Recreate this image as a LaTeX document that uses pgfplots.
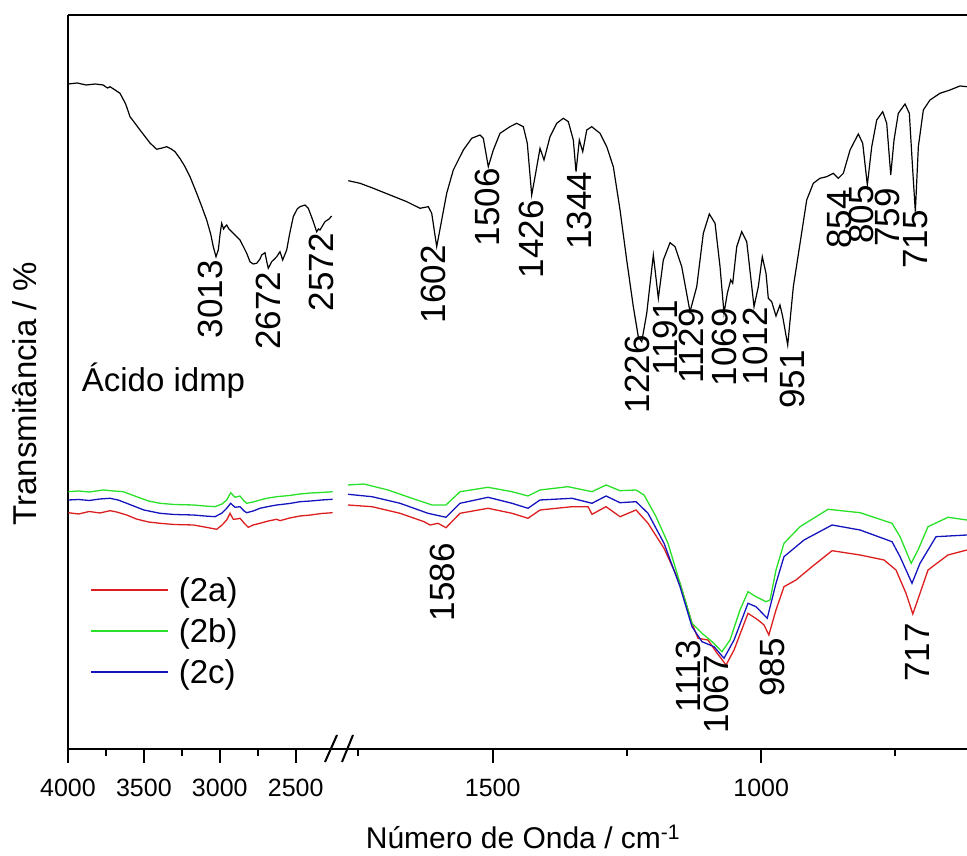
\documentclass[border=0pt]{standalone}
\usepackage{pgfplots}
\pgfplotsset{compat=1.18}
\usepackage{fontspec}
\setmainfont{Liberation Sans}
\definecolor{redA}{RGB}{220,30,30}
\definecolor{greenB}{RGB}{40,225,40}
\definecolor{blueC}{RGB}{20,20,190}
\newcommand{\pk}{\fontsize{35}{35}\selectfont}
\pgfplotsset{
  ftir/.style={
    scale only axis, anchor=south west, height=734pt,
    x dir=reverse, ymin=0, ymax=734,
    tick align=outside, xtick pos=lower,
    major tick length=14pt, minor tick length=7pt,
    every tick/.style={black, line width=2pt},
    ytick=\empty,
    /pgf/number format/assume math mode=true,
    xticklabel style={font=\fontsize{25}{25}\selectfont, inner sep=0pt, anchor=north, yshift=-16pt},
    clip=true,
  }
}
\begin{document}
\begin{tikzpicture}[x=1pt,y=1pt]
\useasboundingbox (0,0) rectangle (967,856);
% ---------------- left segment ----------------
\begin{axis}[ftir, at={(68pt,107pt)}, width=272pt,
  xmin=2208, xmax=4000,
  axis x line=box, axis y line=left,
  axis line style={-, line width=2.2pt},
  x axis line style={-}, y axis line style={-},
  xtick={4000,3500,3000,2500}, xticklabels={4000,3500,3000,2500},
  minor xtick={3750,3250,2750},
  legend style={draw=none, fill=none, at={(rel axis cs:0.081,0.234)}, anchor=north west,
    font=\fontsize{33}{33}\selectfont, row sep=15.5pt, inner sep=0pt,
    nodes={inner sep=0pt}, column sep=10pt},
  legend cell align=left,
  legend image code/.code={\draw[#1, line width=1.6pt] (0pt,0pt) -- (77pt,0pt);},
]
\addplot[black, line width=1.2pt, forget plot] coordinates {
(3998,665) (3940,666) (3880,664) (3820,665) (3769,664) (3740,661) (3723,662.3) (3690,659) (3657.4,655.7)
(3620,645) (3591.5,632.3) (3560,626) (3525.7,619) (3490,612) (3459.8,606) (3415.7,599.7) (3380,601)
(3349.8,602.3) (3320,600) (3295.1,597.3) (3260,590) (3229.2,582.3) (3196.3,572.3) (3152.1,555.7)
(3120,543) (3086.3,529) (3060,515) (3042.8,502.3) (3025,492.3) (3009.8,499) (2998,515) (2987.4,525.7)
(2975,520) (2965.7,522.3) (2954.5,524) (2940,520) (2921.6,517.3) (2900,514) (2866.9,509) (2840,501)
(2822.7,495.7) (2801,487.3) (2780,485) (2756.8,485.7) (2735,490) (2723.9,494) (2702.2,496.3)
(2690,487) (2680.4,480.7) (2658,487.3) (2640,490) (2625.1,492.3) (2603.3,497.3) (2585.6,489)
(2559.2,499) (2540,515) (2515.7,532.3) (2490,540) (2471.6,542.3) (2438.6,544) (2416.9,540.7)
(2400,534) (2383.9,527.3) (2361.6,517.3) (2350,520) (2339.8,519) (2306.9,527.3) (2280,530) (2262.7,533)
};
\addplot[redA, line width=1.3pt] coordinates {
(3998,236.3) (3930,235) (3860,237.5) (3790,236) (3723.3,238.3) (3680,237) (3613.3,234) (3550,230)
(3470,227) (3393.9,225.7) (3300,224.5) (3174.5,224) (3100,222) (3020.4,219.7) (2985,224) (2954.5,229)
(2932.7,235.7) (2911,229.7) (2890,230) (2866.9,230.7) (2840,226) (2812.2,221.7) (2780,224) (2735.1,225.7)
(2680,228) (2625.1,229.7) (2603.3,228.3) (2540,231) (2471.6,233) (2400,234) (2330,235.5) (2256.2,236.3)
};
\addlegendentry{(2a)}
\addplot[greenB, line width=1.3pt] coordinates {
(3998,257.3) (3930,258) (3860,257) (3767.4,259) (3700,258) (3635.7,257.3) (3547.4,252.3) (3470,248)
(3393.9,245.7) (3300,244.5) (3174.5,244) (3100,243) (3031.6,242.3) (2985,245) (2954.5,249) (2928.1,256.3)
(2899.8,251.7) (2866.9,253) (2840,248) (2822.7,245.7) (2780,247) (2735.1,249) (2680,251) (2625.1,252.3)
(2540,253.5) (2471.6,255) (2400,256) (2330,256.5) (2256.2,257.3)
};
\addlegendentry{(2b)}
\addplot[blueC, line width=1.3pt] coordinates {
(3998,249) (3930,249.5) (3860,248.5) (3790,250) (3723.3,250.7) (3670,249) (3613.3,245.7) (3500,239)
(3393.9,235.7) (3300,234.5) (3174.5,234) (3100,233) (3031.6,232.3) (2985,236) (2954.5,240.7)
(2928.1,245.7) (2899.8,241.7) (2866.9,242.3) (2840,238) (2822.7,236.3) (2780,238) (2735.1,240.7)
(2680,242.5) (2625.1,244) (2540,245.5) (2471.6,247.3) (2400,248) (2330,249) (2256.2,249.7)
};
\addlegendentry{(2c)}
\node[rotate=90, anchor=east, inner sep=0pt, font=\pk] at (axis cs:3064.5,489) {3013};
\node[rotate=90, anchor=east, inner sep=0pt, font=\pk] at (axis cs:2682.4,477.3) {2672};
\node[rotate=90, anchor=east, inner sep=0pt, font=\pk] at (axis cs:2333.2,516) {2572};
\node[anchor=base west, inner sep=0pt, font=\fontsize{33}{33}\selectfont] at (axis cs:3909.7,357.3) {Ácido idmp};
\end{axis}
% ---------------- right segment ----------------
\begin{axis}[ftir, at={(340pt,107pt)}, width=627pt,
  xmin=616.8, xmax=1784.4,
  axis x line=box, axis y line=none,
  axis line style={-, line width=2.2pt},
  x axis line style={-},
  xtick={1500,1000}, xticklabels={1500,1000},
  minor xtick={1750,1250,750},
]
\addplot[black, line width=1.2pt] coordinates {
(1768.9,568.3) (1747.1,565.7) (1722.3,560.7) (1691.2,554) (1660.1,547.3) (1635.4,540.7) (1619.9,542.3)
(1613.6,535.7) (1604.3,502.3) (1595,529) (1585.7,555.7) (1573.4,579) (1554.7,599) (1539.1,610.7)
(1523.7,614) (1517.5,610.7) (1508.2,582.3) (1498.9,599) (1486.4,615.7) (1467.8,622.3) (1455.3,625.7)
(1443,622.3) (1435.6,605.7) (1427.4,554) (1421.2,572.3) (1411.9,600.7) (1404.5,589) (1393.3,612.3)
(1380.8,625.7) (1368.5,630.7) (1359.2,627.3) (1349.9,609) (1344.9,577.3) (1338.7,609) (1332.4,597.3)
(1324.9,619) (1315.6,622.3) (1300.2,615.7) (1287.7,602.3) (1275.4,582.3) (1262.9,539) (1250.5,489)
(1238.2,442.3) (1228.9,412.3) (1222.5,407.3) (1213.2,435.7) (1200.9,494) (1191.6,450.7) (1182.3,489)
(1169.8,506.3) (1160.5,502.3) (1148,482.3) (1132.6,437.3) (1120.1,462.3) (1107.8,515.7) (1096.6,535)
(1086,525.7) (1076.7,482.3) (1069.3,435.7) (1063.1,455.7) (1056.8,469) (1053.1,465.7) (1045.6,502.3)
(1036.3,517.3) (1027,507.3) (1013.4,442.3) (1005.4,462.3) (998,492.3) (991.1,475.7) (986.8,450.7)
(980.5,447.3) (972.5,433) (965.1,444) (960,432.3) (950.7,404) (940.2,462.3) (927.7,505.7) (915.3,549)
(903,565.7) (890.5,570.7) (878,572.3) (865.7,575.7) (856.4,570.7) (847.1,575.7) (834.6,599) (819.2,615)
(811,605.7) (802.4,564) (794.2,602.3) (784.9,629) (773.7,637.3) (766.3,625.7) (758.8,574) (752.7,609)
(744.7,635.7) (732.2,645) (724.2,635.7) (717.9,579) (713,537.3) (707.4,602.3) (698.1,639) (685.7,649)
(667.1,655.7) (648.5,659) (629.9,663) (616.8,662.3)
};
\addplot[redA, line width=1.3pt] coordinates {
(1769.5,244) (1724.8,242.3) (1672.6,235.7) (1627.9,227.3) (1616.8,224) (1601.9,225.7) (1587,221.3)
(1560.9,235.7) (1508.8,240.7) (1464.1,235.7) (1434.3,230.7) (1412,239) (1352.3,242.3) (1322.5,242.3)
(1315.1,234.7) (1289,242.3) (1262.9,232.3) (1233.1,239) (1210.8,225.7) (1181,200.7) (1151.2,165.7)
(1128.9,125.7) (1117.7,110.7) (1099.1,109) (1084.2,97.3) (1065.5,84) (1050.6,99) (1024.6,135.7)
(1005.9,129) (994.7,124) (985.8,114) (972.5,139) (957.6,162.3) (935.2,169) (905.4,182.3) (868.1,198.3)
(816,194) (771.3,189) (749,179) (730.4,155.7) (717.7,135) (704.3,155.7) (689.4,179) (652.2,194) (616.8,199)
};
\addplot[greenB, line width=1.3pt] coordinates {
(1769.5,264) (1739.7,265) (1695,259) (1650.3,250.7) (1613,244) (1587,244) (1560.9,257.3) (1508.8,261.7)
(1464.1,257.3) (1434.3,253) (1412,259) (1359.8,262.3) (1315.1,257.3) (1289,264) (1262.9,258.3)
(1233.1,259) (1218.2,254) (1195.9,232.3) (1173.6,205.7) (1151.2,165.7) (1128.9,125.7) (1110.3,115.7)
(1091.6,107.3) (1073,97.3) (1058.1,109) (1039.5,139) (1024.6,157.3) (1009.7,152.3) (991,147.3)
(983.6,149) (972.5,179) (957.6,205.7) (927.7,222.3) (875.6,239.7) (816,236.3) (756.4,225.7)
(741.5,212.3) (720.7,185.7) (708,199) (689.4,222.3) (652.2,231.7) (616.8,229)
};
\addplot[blueC, line width=1.3pt] coordinates {
(1769.5,254.7) (1724.8,252.3) (1672.6,245.7) (1620.5,235.7) (1587,231.7) (1560.9,245.7) (1508.8,251.7)
(1464.1,245.7) (1434.3,240.7) (1412,249) (1352.3,250.7) (1315.1,245.7) (1289,253) (1262.9,246.3)
(1233.1,247.3) (1210.8,235.7) (1181,205.7) (1151.2,162.3) (1128.9,122.3) (1110.3,107.3) (1087.9,102.3)
(1069.3,90.7) (1050.6,109) (1024.6,145.7) (1009.7,142.3) (988.8,130.7) (972.5,165.7) (957.6,192.3)
(920.3,209) (868.1,224) (816,219) (756.4,207.3) (741.5,192.3) (719.2,165.7) (704.3,185.7) (674.5,212.3)
(616.8,214)
};
\node[rotate=90, anchor=east, inner sep=0pt, font=\pk] at (axis cs:1611.2,504) {1602};
\node[rotate=90, anchor=east, inner sep=0pt, font=\pk] at (axis cs:1509.7,581) {1506};
\node[rotate=90, anchor=east, inner sep=0pt, font=\pk] at (axis cs:1427.4,549) {1426};
\node[rotate=90, anchor=east, inner sep=0pt, font=\pk] at (axis cs:1339.3,577.3) {1344};
\node[rotate=90, anchor=east, inner sep=0pt, font=\pk] at (axis cs:1230.4,414) {1226};
\node[rotate=90, anchor=east, inner sep=0pt, font=\pk] at (axis cs:1179.1,449) {1191};
\node[rotate=90, anchor=east, inner sep=0pt, font=\pk] at (axis cs:1130.7,441) {1129};
\node[rotate=90, anchor=east, inner sep=0pt, font=\pk] at (axis cs:1069.3,441) {1069};
\node[rotate=90, anchor=east, inner sep=0pt, font=\pk] at (axis cs:1011.5,442) {1012};
\node[rotate=90, anchor=east, inner sep=0pt, font=\pk] at (axis cs:942.6,399) {951};
\node[rotate=90, anchor=east, inner sep=0pt, font=\pk] at (axis cs:855.1,559) {854};
\node[rotate=90, anchor=east, inner sep=0pt, font=\pk] at (axis cs:814.1,564) {805};
\node[rotate=90, anchor=east, inner sep=0pt, font=\pk] at (axis cs:765.7,561) {759};
\node[rotate=90, anchor=east, inner sep=0pt, font=\pk] at (axis cs:711.7,539) {715};
\node[rotate=90, anchor=east, inner sep=0pt, font=\pk] at (axis cs:1594.4,206) {1586};
\node[rotate=90, anchor=east, inner sep=0pt, font=\pk] at (axis cs:1136.3,109) {1113};
\node[rotate=90, anchor=east, inner sep=0pt, font=\pk] at (axis cs:1084.2,94) {1067};
\node[rotate=90, anchor=east, inner sep=0pt, font=\pk] at (axis cs:979.9,111) {985};
\node[rotate=90, anchor=east, inner sep=0pt, font=\pk] at (axis cs:709.8,126) {717};
\end{axis}
% axis break marks
\draw[line width=2pt] (325,94) -- (337,121);
\draw[line width=2pt] (342,94) -- (353,121);
% axis labels
\node[anchor=base, inner sep=0pt, font=\fontsize{30}{30}\selectfont] at (523,7) {Número de Onda / cm\textsuperscript{-1}};
\node[rotate=90, inner sep=0pt, font=\fontsize{33}{33}\selectfont] at (25,462) {Transmitância / \%};
\end{tikzpicture}
\end{document}
